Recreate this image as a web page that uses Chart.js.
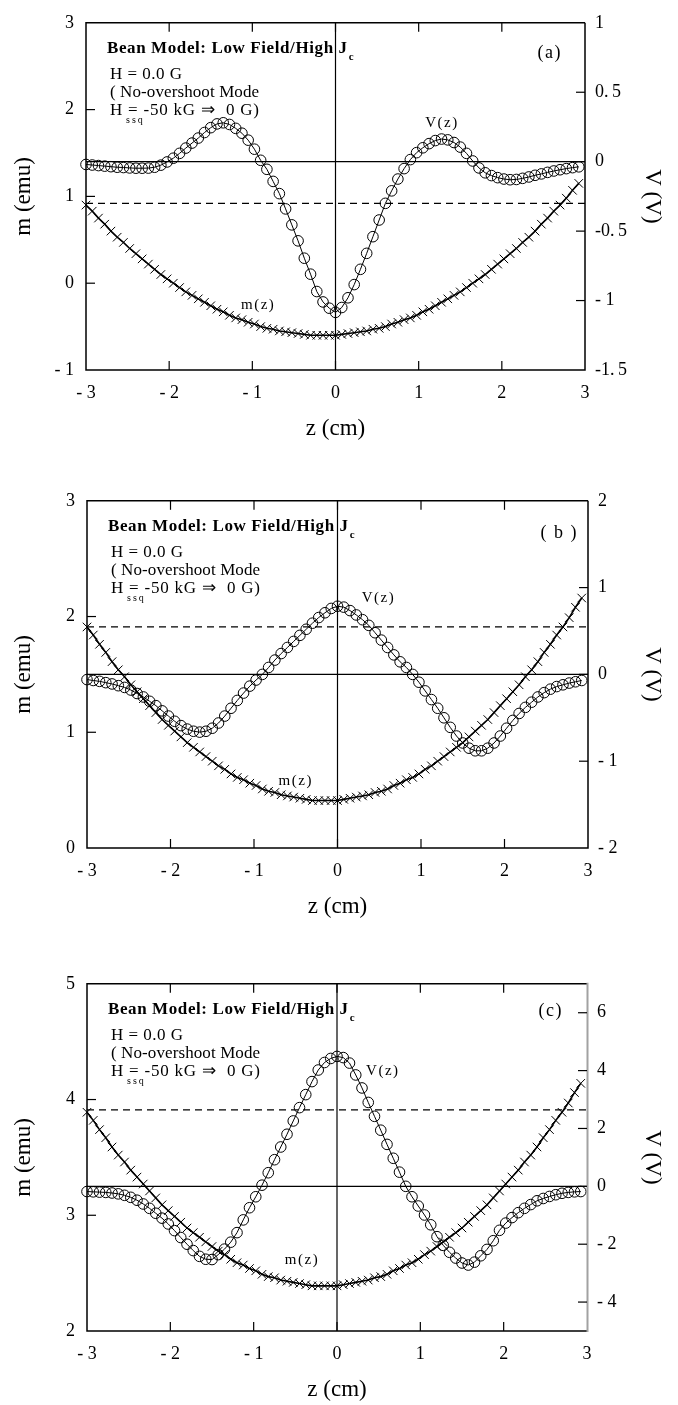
<!DOCTYPE html>
<html>
<head>
<meta charset="utf-8">
<script src="https://cdn.jsdelivr.net/npm/chart.js@4.4.1/dist/chart.umd.min.js"></script>
<style>
  * { margin: 0; padding: 0; }
  body { width: 678px; height: 1405px; background: #fff; position: relative; overflow: hidden; }
  .panel { position: absolute; left: 0; width: 678px; height: 440px; }
</style>
</head>
<body>
<div class="panel" style="top:0px"><canvas id="pa"></canvas></div>
<div class="panel" style="top:478px"><canvas id="pb"></canvas></div>
<div class="panel" style="top:961px"><canvas id="pc"></canvas></div>
<script>
// sample position along the scan (cm)
var zPos = [
  -3, -2.925, -2.85, -2.775, -2.7, -2.625, -2.55, -2.475, -2.4, -2.325,
  -2.25, -2.175, -2.1, -2.025, -1.95, -1.875, -1.8, -1.725, -1.65, -1.575,
  -1.5, -1.425, -1.35, -1.275, -1.2, -1.125, -1.05, -0.975, -0.9, -0.825,
  -0.75, -0.675, -0.6, -0.525, -0.45, -0.375, -0.3, -0.225, -0.15, -0.075,
  0, 0.075, 0.15, 0.225, 0.3, 0.375, 0.45, 0.525, 0.6, 0.675,
  0.75, 0.825, 0.9, 0.975, 1.05, 1.125, 1.2, 1.275, 1.35, 1.425,
  1.5, 1.575, 1.65, 1.725, 1.8, 1.875, 1.95, 2.025, 2.1, 2.175,
  2.25, 2.325, 2.4, 2.475, 2.55, 2.625, 2.7, 2.775, 2.85, 2.925
];

// moment m(z), emu
var mA = [
  0.90, 0.83, 0.75, 0.68, 0.60, 0.53, 0.47, 0.40, 0.34, 0.28,
  0.22, 0.16, 0.10, 0.05, 0.00, -0.05, -0.10, -0.14, -0.18, -0.22,
  -0.26, -0.30, -0.33, -0.37, -0.40, -0.42, -0.45, -0.47, -0.50, -0.52,
  -0.53, -0.55, -0.56, -0.57, -0.58, -0.59, -0.60, -0.60, -0.60, -0.60,
  -0.60, -0.59, -0.58, -0.57, -0.56, -0.55, -0.53, -0.52, -0.50, -0.47,
  -0.45, -0.42, -0.40, -0.37, -0.33, -0.30, -0.26, -0.22, -0.18, -0.14,
  -0.10, -0.05, 0.00, 0.05, 0.10, 0.16, 0.22, 0.28, 0.34, 0.40,
  0.47, 0.53, 0.60, 0.68, 0.75, 0.83, 0.90, 0.98, 1.07, 1.15
];
var mB = [
  1.91, 1.84, 1.76, 1.69, 1.61, 1.54, 1.48, 1.41, 1.35, 1.29,
  1.23, 1.17, 1.11, 1.06, 1.01, 0.96, 0.91, 0.87, 0.83, 0.79,
  0.75, 0.71, 0.68, 0.64, 0.61, 0.59, 0.56, 0.54, 0.51, 0.49,
  0.48, 0.46, 0.45, 0.44, 0.43, 0.42, 0.41, 0.41, 0.41, 0.41,
  0.41, 0.42, 0.43, 0.44, 0.45, 0.46, 0.48, 0.49, 0.51, 0.54,
  0.56, 0.59, 0.61, 0.64, 0.68, 0.71, 0.75, 0.79, 0.83, 0.87,
  0.91, 0.96, 1.01, 1.06, 1.11, 1.17, 1.23, 1.29, 1.35, 1.41,
  1.48, 1.54, 1.61, 1.69, 1.76, 1.84, 1.91, 1.99, 2.08, 2.16
];
var mC = [
  3.89, 3.82, 3.74, 3.67, 3.59, 3.52, 3.46, 3.39, 3.33, 3.27,
  3.21, 3.15, 3.09, 3.04, 2.99, 2.94, 2.89, 2.85, 2.81, 2.77,
  2.73, 2.69, 2.66, 2.62, 2.59, 2.57, 2.54, 2.52, 2.49, 2.47,
  2.46, 2.44, 2.43, 2.42, 2.41, 2.40, 2.39, 2.39, 2.39, 2.39,
  2.39, 2.40, 2.41, 2.42, 2.43, 2.44, 2.46, 2.47, 2.49, 2.52,
  2.54, 2.57, 2.59, 2.62, 2.66, 2.69, 2.73, 2.77, 2.81, 2.85,
  2.89, 2.94, 2.99, 3.04, 3.09, 3.15, 3.21, 3.27, 3.33, 3.39,
  3.46, 3.52, 3.59, 3.67, 3.74, 3.82, 3.89, 3.97, 4.06, 4.14
];

// SQUID voltage V(z), volts
var vA = [
  -0.02, -0.024, -0.028, -0.032, -0.036, -0.04, -0.042, -0.045, -0.047, -0.047,
  -0.046, -0.04, -0.025, -0.002, 0.025, 0.06, 0.098, 0.134, 0.17, 0.21,
  0.245, 0.272, 0.28, 0.268, 0.24, 0.205, 0.155, 0.09, 0.01, -0.055,
  -0.142, -0.23, -0.34, -0.455, -0.57, -0.695, -0.81, -0.935, -1.01, -1.055,
  -1.085, -1.05, -0.98, -0.885, -0.775, -0.66, -0.54, -0.42, -0.30, -0.21,
  -0.125, -0.05, 0.015, 0.065, 0.10, 0.13, 0.152, 0.163, 0.157, 0.138,
  0.105, 0.06, 0.005, -0.045, -0.08, -0.10, -0.115, -0.125, -0.13, -0.128,
  -0.12, -0.11, -0.098, -0.088, -0.077, -0.067, -0.058, -0.05, -0.043, -0.037
];
var vB = [
  -0.06, -0.07, -0.08, -0.095, -0.11, -0.13, -0.15, -0.18, -0.22, -0.26,
  -0.31, -0.36, -0.42, -0.48, -0.54, -0.59, -0.63, -0.655, -0.665, -0.655,
  -0.62, -0.56, -0.48, -0.39, -0.30, -0.215, -0.135, -0.065, 0.0, 0.08,
  0.165, 0.24, 0.31, 0.38, 0.45, 0.52, 0.59, 0.655, 0.71, 0.76,
  0.785, 0.775, 0.735, 0.685, 0.63, 0.565, 0.48, 0.395, 0.31, 0.225,
  0.145, 0.08, 0.0, -0.09, -0.19, -0.29, -0.39, -0.5, -0.61, -0.71,
  -0.79, -0.85, -0.88, -0.88, -0.85, -0.79, -0.71, -0.62, -0.53, -0.45,
  -0.38, -0.32, -0.26, -0.21, -0.17, -0.14, -0.12, -0.10, -0.085, -0.07
];
var vC = [
  -0.18, -0.19, -0.20, -0.21, -0.23, -0.26, -0.31, -0.38, -0.48, -0.61,
  -0.76, -0.93, -1.10, -1.30, -1.53, -1.77, -2.00, -2.22, -2.42, -2.52,
  -2.53, -2.36, -2.17, -1.93, -1.60, -1.16, -0.74, -0.36, 0.04, 0.47,
  0.92, 1.36, 1.80, 2.26, 2.72, 3.17, 3.62, 4.02, 4.28, 4.42,
  4.49, 4.45, 4.26, 3.85, 3.40, 2.90, 2.42, 1.94, 1.45, 0.97,
  0.49, 0.00, -0.36, -0.68, -0.99, -1.33, -1.74, -2.04, -2.28, -2.48,
  -2.65, -2.72, -2.62, -2.40, -2.18, -1.88, -1.52, -1.27, -1.08, -0.91,
  -0.76, -0.63, -0.50, -0.42, -0.35, -0.29, -0.24, -0.21, -0.19, -0.18
];

// dashed reference level of m for each run (emu)
var mRef = [0.92, 1.91, 3.91];

// tick values and their printed labels
var zTicks = [-3, -2, -1, 0, 1, 2, 3];
var zTickLabels = ['- 3', '- 2', '- 1', '0', '1', '2', '3'];
var mTicksA = [-1, 0, 1, 2, 3];
var mTickLabelsA = ['- 1', '0', '1', '2', '3'];
var vTicksA = [-1.5, -1, -0.5, 0, 0.5, 1];
var vTickLabelsA = ['-1.\u20095', '- 1', '-0.\u20095', '0', '0.\u20095', '1'];
var mTicksB = [0, 1, 2, 3];
var mTickLabelsB = ['0', '1', '2', '3'];
var vTicksB = [-2, -1, 0, 1, 2];
var vTickLabelsB = ['- 2', '- 1', '0', '1', '2'];
var mTicksC = [2, 3, 4, 5];
var mTickLabelsC = ['2', '3', '4', '5'];
var vTicksC = [-4, -2, 0, 2, 4, 6];
var vTickLabelsC = ['- 4', '- 2', '0', '2', '4', '6'];

var SERIF = '"Liberation Serif", "Times New Roman", serif';
Chart.defaults.font.family = SERIF;
Chart.defaults.color = '#000';

var panels = [
  { id: 'pa', tag: '(a)', m: mA, v: vA, ref: mRef[0],
    mMin: -1, mMax: 3, vMin: -1.5, vMax: 1,
    mTicks: mTicksA, mLabels: mTickLabelsA, vTicks: vTicksA, vLabels: vTickLabelsA,
    vAt: [1.28, 0.28], mAt: [-0.93, -0.25],
    leftW: 86, rightW: 93, tagRight: 23, tagBase: 35.5, greyRight: false },
  { id: 'pb', tag: '( b )', m: mB, v: vB, ref: mRef[1],
    mMin: 0, mMax: 3, vMin: -2, vMax: 2,
    mTicks: mTicksB, mLabels: mTickLabelsB, vTicks: vTicksB, vLabels: vTickLabelsB,
    vAt: [0.49, 0.88], mAt: [-0.5, 0.58],
    leftW: 87, rightW: 90, tagRight: 10, tagBase: 37.5, greyRight: false },
  { id: 'pc', tag: '(c)', m: mC, v: vC, ref: mRef[2],
    mMin: 2, mMax: 5, vMin: -5, vMax: 7,
    mTicks: mTicksC, mLabels: mTickLabelsC, vTicks: vTicksC, vLabels: vTickLabelsC,
    vAt: [0.55, 3.99], mAt: [-0.42, 2.61],
    leftW: 87, rightW: 91, tagRight: 24, tagBase: 32, greyRight: true }
];

function seg(ctx, x1, y1, x2, y2) {
  ctx.beginPath();
  ctx.moveTo(x1, y1);
  ctx.lineTo(x2, y2);
  ctx.stroke();
}

function txt(ctx, s, x, y, font, spacing, align) {
  ctx.font = font;
  ctx.letterSpacing = (spacing || 0) + 'px';
  ctx.textAlign = align || 'left';
  ctx.fillText(s, x, y);
  return ctx.measureText(s).width;
}

// guide lines under the data, frame + inward ticks + text on top
var decor = {
  id: 'decor',
  beforeDatasetsDraw: function (chart, args, o) {
    var ctx = chart.ctx, a = chart.chartArea, s = chart.scales;
    ctx.save();
    ctx.strokeStyle = '#000';
    ctx.lineWidth = 1.2;
    var x0 = s.x.getPixelForValue(0);
    var v0 = s.y1.getPixelForValue(0);
    seg(ctx, x0, a.top, x0, a.bottom);
    seg(ctx, a.left, v0, a.right, v0);
    ctx.setLineDash([7, 5]);
    var yr = s.y.getPixelForValue(o.ref);
    seg(ctx, a.left, yr, a.right, yr);
    ctx.restore();
  },
  afterDraw: function (chart, args, o) {
    var ctx = chart.ctx, a = chart.chartArea, s = chart.scales;
    var L = a.left, T = a.top;
    ctx.save();
    ctx.strokeStyle = '#000';
    ctx.lineWidth = 1.5;
    ctx.beginPath();
    ctx.moveTo(a.right, a.top);
    ctx.lineTo(a.left, a.top);
    ctx.lineTo(a.left, a.bottom);
    ctx.lineTo(a.right, a.bottom);
    if (!o.greyRight) ctx.lineTo(a.right, a.top);
    ctx.stroke();
    if (o.greyRight) {
      ctx.strokeStyle = '#a2a2a2';
      ctx.lineWidth = 2;
      seg(ctx, a.right + 0.5, a.top - 1, a.right + 0.5, a.bottom + 1);
    }

    ctx.strokeStyle = '#000';
    ctx.lineWidth = 1.2;
    s.x.ticks.forEach(function (t) {
      var px = s.x.getPixelForValue(t.value);
      if (px < a.left + 2 || px > a.right - 2) return;
      seg(ctx, px, a.bottom, px, a.bottom - 9);
      seg(ctx, px, a.top, px, a.top + 9);
    });
    s.y.ticks.forEach(function (t) {
      var py = s.y.getPixelForValue(t.value);
      if (py < a.top + 2 || py > a.bottom - 2) return;
      seg(ctx, a.left, py, a.left + 9, py);
    });
    s.y1.ticks.forEach(function (t) {
      var py = s.y1.getPixelForValue(t.value);
      if (py < a.top + 2 || py > a.bottom - 2) return;
      seg(ctx, a.right, py, a.right - 9, py);
    });

    ctx.fillStyle = '#000';
    ctx.textBaseline = 'alphabetic';
    var w = txt(ctx, 'Bean Model: Low Field/High J', L + 21, T + 30.5, 'bold 17px ' + SERIF, 0.6);
    txt(ctx, 'c', L + 21 + w + 1, T + 37, 'bold 11px ' + SERIF, 0);
    txt(ctx, 'H = 0.0 G', L + 24, T + 56.5, '17px ' + SERIF, 0.5);
    txt(ctx, '( No-overshoot Mode', L + 24, T + 74, '17px ' + SERIF, 0.1);
    txt(ctx, 'H', L + 24, T + 92, '17px ' + SERIF, 0);
    txt(ctx, '= -50 kG \u21d2  0 G)', L + 42, T + 92, '17px ' + SERIF, 0.8);
    txt(ctx, 'ssq', L + 40, T + 100.5, '10px ' + SERIF, 2);
    txt(ctx, o.tag, a.right - o.tagRight, T + o.tagBase, '18px ' + SERIF, 1.5, 'right');

    ctx.textBaseline = 'middle';
    txt(ctx, 'V(z)', s.x.getPixelForValue(o.vAt[0]), s.y1.getPixelForValue(o.vAt[1]), '15px ' + SERIF, 1.5, 'center');
    txt(ctx, 'm(z)', s.x.getPixelForValue(o.mAt[0]), s.y.getPixelForValue(o.mAt[1]), '15px ' + SERIF, 1.5, 'center');
    ctx.restore();
  }
};

function points(ys) {
  return zPos.map(function (z, i) { return { x: z, y: ys[i] }; });
}

function fixedTicks(values) {
  return function (scale) {
    scale.ticks = values.map(function (v) { return { value: v }; });
  };
}

function tickText(values, labels) {
  return function (val) {
    var i = values.indexOf(val);
    return i < 0 ? '' : labels[i];
  };
}

panels.forEach(function (p) {
  new Chart(document.getElementById(p.id), {
    type: 'scatter',
    data: {
      datasets: [
        {
          label: 'm(z)',
          data: points(p.m),
          yAxisID: 'y',
          showLine: true,
          borderColor: '#000',
          borderWidth: 1.6,
          pointStyle: 'crossRot',
          pointRadius: 6,
          pointBorderWidth: 1,
          pointBorderColor: '#000',
          clip: false
        },
        {
          label: 'V(z)',
          data: points(p.v),
          yAxisID: 'y1',
          showLine: true,
          borderColor: '#000',
          borderWidth: 1,
          pointStyle: 'circle',
          pointRadius: 5.3,
          pointBorderWidth: 1,
          pointBorderColor: '#000',
          pointBackgroundColor: 'rgba(0,0,0,0)',
          clip: false
        }
      ]
    },
    options: {
      responsive: true,
      maintainAspectRatio: false,
      animation: false,
      events: [],
      layout: { padding: { top: 15, left: 0, right: 0, bottom: 0 } },
      plugins: {
        legend: { display: false },
        tooltip: { enabled: false },
        decor: p
      },
      scales: {
        x: {
          type: 'linear', position: 'bottom', min: -3, max: 3,
          grid: { display: false, drawTicks: false },
          border: { display: false },
          afterBuildTicks: fixedTicks(zTicks),
          afterFit: function (s) { s.height = 70; },
          ticks: { font: { size: 18 }, padding: 12, maxRotation: 0,
                   callback: tickText(zTicks, zTickLabels) },
          title: { display: true, text: 'z (cm)', font: { size: 23, lineHeight: 1 },
                   padding: { top: 0, bottom: 0 } }
        },
        y: {
          type: 'linear', position: 'left', min: p.mMin, max: p.mMax,
          grid: { display: false, drawTicks: false },
          border: { display: false },
          afterBuildTicks: fixedTicks(p.mTicks),
          afterFit: function (s) { s.width = p.leftW; },
          ticks: { font: { size: 18 }, padding: 12,
                   callback: tickText(p.mTicks, p.mLabels) },
          title: { display: true, text: 'm (emu)', font: { size: 23, lineHeight: 1 },
                   padding: { top: 12, bottom: 0 } }
        },
        y1: {
          type: 'linear', position: 'right', min: p.vMin, max: p.vMax,
          grid: { display: false, drawTicks: false },
          border: { display: false },
          afterBuildTicks: fixedTicks(p.vTicks),
          afterFit: function (s) { s.width = p.rightW; },
          ticks: { font: { size: 18 }, padding: 10,
                   callback: tickText(p.vTicks, p.vLabels) },
          title: { display: true, text: 'V (V)', font: { size: 23, lineHeight: 1 },
                   padding: { top: 14, bottom: 0 } }
        }
      }
    },
    plugins: [decor]
  });
});
</script>
</body>
</html>
